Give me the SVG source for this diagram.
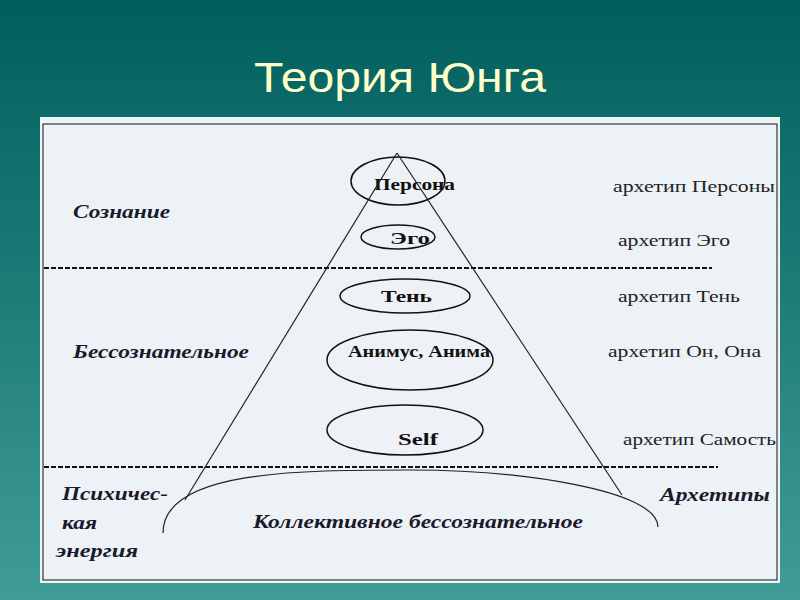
<svg xmlns="http://www.w3.org/2000/svg" width="800" height="600" viewBox="0 0 800 600">
<defs>
<linearGradient id="bg" x1="0" y1="0" x2="0" y2="1">
<stop offset="0" stop-color="#005f5e"/>
<stop offset="0.5" stop-color="#1f7d78"/>
<stop offset="1" stop-color="#409c96"/>
</linearGradient>
<style>
.ell{fill:#eef2f6;stroke:#111;stroke-width:1.5}
.ln{stroke:#222;stroke-width:1.2;fill:none}
.dash{stroke:#111;stroke-width:2;stroke-dasharray:5 2;fill:none}
.nb{font-family:"Liberation Serif","DejaVu Serif",serif;font-weight:bold;font-size:16px;fill:#111}
.ar{font-family:"Liberation Serif","DejaVu Serif",serif;font-size:17px;fill:#222}
.it{font-family:"Liberation Serif","DejaVu Serif",serif;font-weight:bold;font-style:italic;font-size:19px;fill:#1a1a2a}
</style>
</defs>
<rect x="0" y="0" width="800" height="600" fill="url(#bg)"/>
<text x="400" y="92" text-anchor="middle" font-family="'Liberation Sans Narrow','Liberation Sans',Arial,sans-serif" font-size="43" fill="#ffffcc" textLength="292" lengthAdjust="spacingAndGlyphs">Теория Юнга</text>
<rect x="40" y="117" width="740" height="466" fill="#eef3f8"/>
<rect x="43" y="124" width="734" height="456" fill="#edf2f7" stroke="#111" stroke-width="1"/>

<g id="connectors">
<line class="dash" x1="44" y1="268" x2="712" y2="268"/>
<line class="dash" x1="44" y1="467" x2="718" y2="467"/>
</g>

<g id="kollektivnoe">
<path d="M163 533 C163 470 300 470 410 470 C520 470 658 490 658 527" class="ln" stroke-width="1.5"/>
<text class="it" x="253" y="528" textLength="330" lengthAdjust="spacingAndGlyphs">Коллективное бессознательное</text>
</g>

<g id="persona"><ellipse class="ell" cx="398" cy="181" rx="47" ry="24"/><text class="nb" x="374" y="190" textLength="81" lengthAdjust="spacingAndGlyphs">Персона</text></g>
<g id="ego"><ellipse class="ell" cx="398" cy="237" rx="37" ry="12"/><text class="nb" x="390" y="244" textLength="40" lengthAdjust="spacingAndGlyphs">Эго</text></g>
<g id="ten"><ellipse class="ell" cx="405" cy="296" rx="65" ry="17"/><text class="nb" x="381" y="302" textLength="51" lengthAdjust="spacingAndGlyphs">Тень</text></g>
<g id="animus"><ellipse class="ell" cx="410" cy="360" rx="83" ry="30"/><text class="nb" x="348" y="357" textLength="142" lengthAdjust="spacingAndGlyphs">Анимус, Анима</text></g>
<g id="self"><ellipse class="ell" cx="405" cy="430" rx="78" ry="25"/><text class="nb" x="398" y="445" textLength="40" lengthAdjust="spacingAndGlyphs">Self</text></g>

<g id="pyramid">
<line class="ln" x1="397" y1="153" x2="185" y2="500"/>
<line class="ln" x1="397" y1="153" x2="622" y2="495"/>
</g>

<g id="left-labels">
<text class="it" x="73" y="218" textLength="97" lengthAdjust="spacingAndGlyphs">Сознание</text>
<text class="it" x="73" y="358" textLength="176" lengthAdjust="spacingAndGlyphs">Бессознательное</text>
<text class="it" x="62" y="500" textLength="106" lengthAdjust="spacingAndGlyphs">Психичес-</text>
<text class="it" x="62" y="529" textLength="35" lengthAdjust="spacingAndGlyphs">кая</text>
<text class="it" x="56" y="557" textLength="82" lengthAdjust="spacingAndGlyphs">энергия</text>
</g>

<g id="right-labels">
<text class="ar" x="613" y="192" textLength="162" lengthAdjust="spacingAndGlyphs">архетип Персоны</text>
<text class="ar" x="618" y="246" textLength="112" lengthAdjust="spacingAndGlyphs">архетип Эго</text>
<text class="ar" x="618" y="302" textLength="122" lengthAdjust="spacingAndGlyphs">архетип Тень</text>
<text class="ar" x="608" y="357" textLength="153" lengthAdjust="spacingAndGlyphs">архетип Он, Она</text>
<text class="ar" x="623" y="445" textLength="153" lengthAdjust="spacingAndGlyphs">архетип Самость</text>
<text class="it" x="660" y="501" textLength="110" lengthAdjust="spacingAndGlyphs">Архетипы</text>
</g>
</svg>
